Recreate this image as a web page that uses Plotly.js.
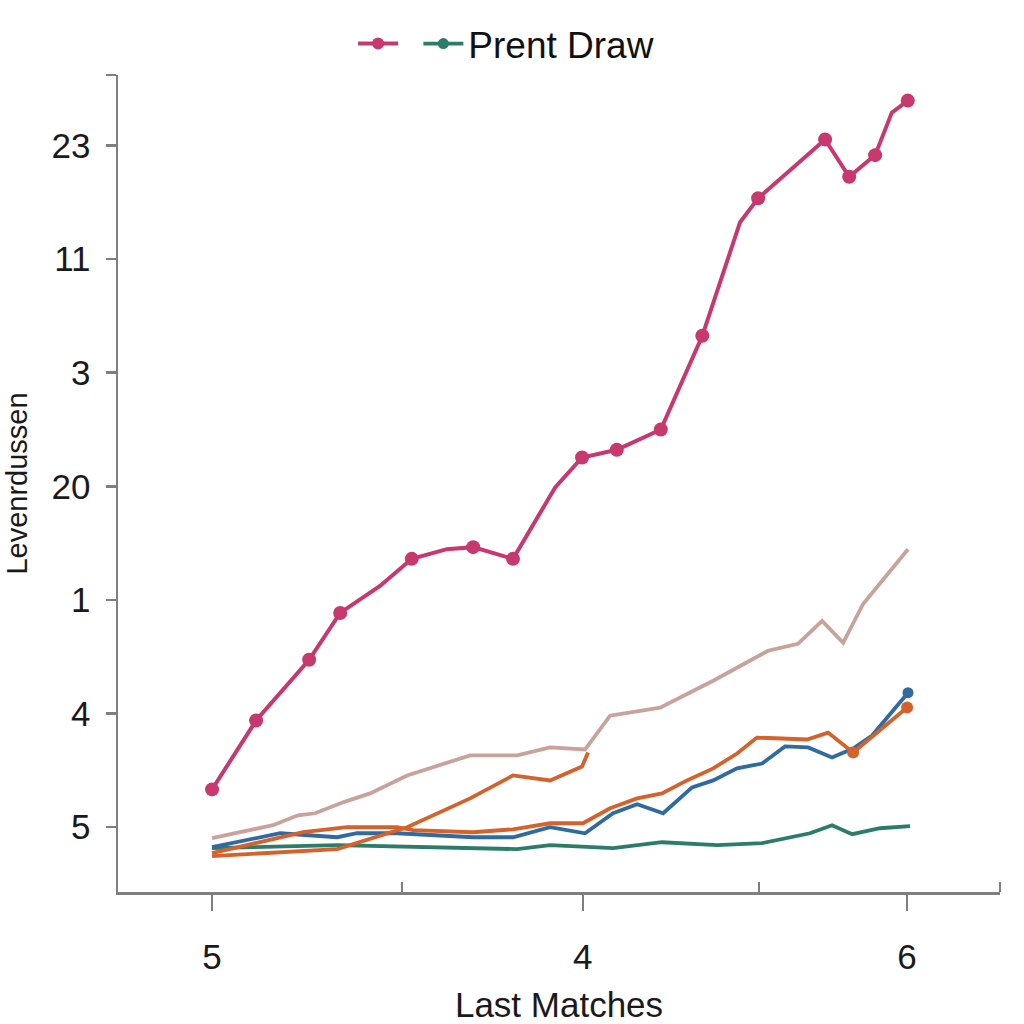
<!DOCTYPE html>
<html>
<head>
<meta charset="utf-8">
<script src="https://cdn.plot.ly/plotly-3.0.1.min.js"></script>
<style>html,body{margin:0;padding:0;background:#fff;}#chart{width:1024px;height:1024px;}</style>
</head>
<body>
<div id="chart"></div>
<script>
// Values (x: match position, y: level index)
const magentaX = [0, 1.90, 4.19, 5.53, 7.25, 8.62, 10.14, 11.27, 12.99, 14.81, 15.97, 17.47, 19.37, 21.16, 22.79, 23.57, 26.46, 27.50, 28.62, 29.34, 30.03];
const magentaY = [0.333, 0.939, 1.474, 1.886, 2.123, 2.362, 2.447, 2.465, 2.362, 2.991, 3.254, 3.322, 3.500, 4.325, 5.325, 5.535, 6.053, 5.725, 5.915, 6.289, 6.395];
const magentaMarked = [1,1,1,1,0,1,0,1,1,0,1,1,1,1,0,1,1,1,1,0,1];

const rosyX = [0, 2.63, 3.71, 4.45, 5.65, 6.82, 8.42, 9.84, 11.14, 13.17, 14.59, 16.10, 17.18, 19.34, 21.63, 24.0, 25.29, 26.33, 27.24, 28.10, 30.04];
const rosyY = [-0.096, 0.018, 0.105, 0.123, 0.219, 0.298, 0.456, 0.544, 0.632, 0.632, 0.702, 0.684, 0.982, 1.053, 1.289, 1.553, 1.614, 1.816, 1.623, 1.965, 2.447];

const orangeAX = [0, 5.40, 8.42, 11.14, 12.99, 14.59, 15.97, 16.23];
const orangeAY = [-0.254, -0.193, 0.0, 0.254, 0.456, 0.412, 0.535, 0.658];

const orangeBX = [0, 2.94, 3.93, 5.83, 7.99, 8.68, 11.27, 12.99, 14.59, 16.01, 17.18, 18.35, 19.42, 20.50, 21.63, 22.66, 23.52, 25.68, 26.59, 27.67, 30.0];
const orangeBY = [-0.228, -0.088, -0.044, 0, 0, -0.026, -0.044, -0.018, 0.035, 0.035, 0.167, 0.254, 0.298, 0.412, 0.518, 0.649, 0.789, 0.772, 0.833, 0.658, 1.053];
const orangeBMarked = [0,0,0,0,0,0,0,0,0,0,0,0,0,0,0,0,0,0,0,1,1];

const blueX = [0, 2.94, 5.40, 6.26, 7.99, 11.27, 12.99, 14.59, 16.10, 17.31, 18.35, 19.47, 20.72, 21.63, 22.66, 23.74, 24.73, 25.73, 26.76, 27.67, 28.49, 30.04];
const blueY = [-0.175, -0.053, -0.088, -0.053, -0.053, -0.088, -0.088, 0, -0.053, 0.123, 0.202, 0.123, 0.351, 0.412, 0.518, 0.561, 0.711, 0.702, 0.614, 0.693, 0.807, 1.184];
const blueMarked = [0,0,0,0,0,0,0,0,0,0,0,0,0,0,0,0,0,0,0,0,0,1];

const tealX = [0, 5.40, 13.17, 14.59, 17.31, 19.42, 21.80, 23.74, 25.81, 26.76, 27.63, 28.83, 30.13];
const tealY = [-0.184, -0.158, -0.193, -0.158, -0.184, -0.132, -0.158, -0.140, -0.053, 0.018, -0.061, -0.009, 0.009];

const yTickVals = [0, 1, 2, 3, 4, 5, 6, 6.62];
const yTickText = ["5", "4", "1", "20", "3", "11", "23", ""];
const xTickVals = [0, 16, 30];
const xTickText = ["5", "4", "6"];
const xMinorVals = [8.2, 23.6, 34.0];

const legendNames = [" ", "Prent Draw"];

const C = {magenta:'#c7386f', rosy:'#c9a29c', orange:'#d5612b', blue:'#2f6aa1', teal:'#2b7d6a', axis:'#7f7f7f'};
const sizes = (arr, s) => arr.map(m => m ? s : 0);

const traces = [
  {x: tealX, y: tealY, mode:'lines', line:{color:C.teal, width:3.8}, showlegend:false},
  {x: blueX, y: blueY, mode:'lines+markers', line:{color:C.blue, width:3.8}, marker:{color:C.blue, opacity:1, size:sizes(blueMarked, 11), line:{width:0}}, showlegend:false},
  {x: orangeAX, y: orangeAY, mode:'lines', line:{color:C.orange, width:3.8}, showlegend:false},
  {x: orangeBX, y: orangeBY, mode:'lines+markers', line:{color:C.orange, width:3.8}, marker:{color:C.orange, opacity:1, size:sizes(orangeBMarked, 12), line:{width:0}}, showlegend:false},
  {x: rosyX, y: rosyY, mode:'lines', line:{color:C.rosy, width:3.8}, showlegend:false},
  {x: magentaX, y: magentaY, mode:'lines+markers', line:{color:C.magenta, width:4},
   marker:{color:C.magenta, opacity:1, size:sizes(magentaMarked, 14), line:{width:0}}, showlegend:false},
  // legend entries
  {x:[null], y:[null], mode:'lines+markers', name: legendNames[0], line:{color:C.magenta, width:4}, marker:{color:C.magenta, size:12}, legendrank:1, showlegend:true},
  {x:[null], y:[null], mode:'lines+markers', name: legendNames[1], line:{color:C.teal, width:3.8}, marker:{color:C.teal, size:11}, legendrank:2, showlegend:true}
];

const font = 'Liberation Sans, Arial, sans-serif';
const layout = {
  width:1024, height:1024,
  margin:{l:118, r:24, t:72, b:132},
  paper_bgcolor:'#ffffff', plot_bgcolor:'#ffffff',
  font:{family:font, color:'#222', size:30},
  showlegend:true,
  legend:{orientation:'h', x:0.44, xanchor:'center', yref:'container', y:0.957, yanchor:'middle',
          font:{family:font, size:37, color:'#111'}, traceorder:'normal', itemwidth:40, bgcolor:'rgba(0,0,0,0)'},
  xaxis:{range:[-4.06, 34.01], showgrid:false, zeroline:false, showline:true, linecolor:C.axis, linewidth:2.5,
         tickmode:'array', tickvals:xTickVals, ticktext:xTickText, ticks:'outside', ticklen:16, tickwidth:2.5, tickcolor:C.axis,
         ticklabelstandoff:16, tickfont:{family:font, size:35, color:'#1a1a1a'},
         minor:{tickmode:'array', tickvals:xMinorVals, ticks:'inside', ticklen:10, tickwidth:2.5, tickcolor:C.axis, showgrid:false},
         title:{text:'Last Matches', font:{family:font, size:35, color:'#1a1a1a'}, standoff:22}},
  yaxis:{range:[-0.57, 6.62], showgrid:false, zeroline:false, showline:true, linecolor:C.axis, linewidth:2.5,
         tickmode:'array', tickvals:yTickVals, ticktext:yTickText, ticks:'outside', ticklen:10, tickwidth:2.5, tickcolor:C.axis,
         ticklabelstandoff:8, tickfont:{family:font, size:35, color:'#1a1a1a'},
         title:{text:'Levenrdussen', font:{family:font, size:29, color:'#1a1a1a'}, standoff:16}}
};
Plotly.newPlot('chart', traces, layout, {displayModeBar:false, staticPlot:true});
</script>
</body>
</html>
